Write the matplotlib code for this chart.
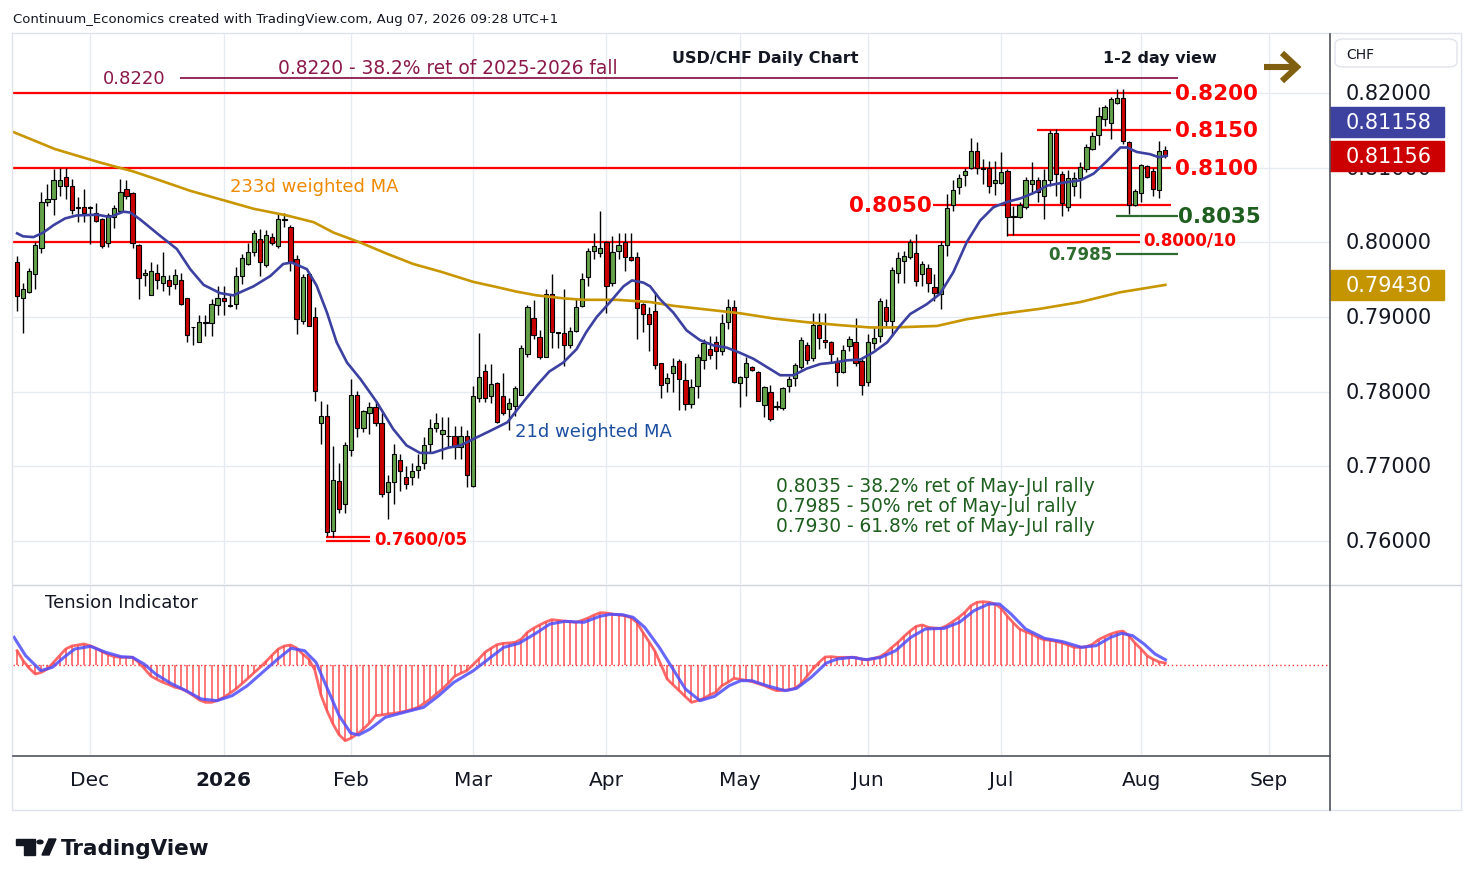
import numpy as np
import pandas as pd
import matplotlib
matplotlib.use("Agg")
import matplotlib.pyplot as plt
from matplotlib.patches import Rectangle, FancyBboxPatch, Polygon, Circle
from matplotlib.lines import Line2D

# -----------------------------
# Data (USD/CHF daily)
# -----------------------------
holidays = ["2025-12-25", "2026-01-01"]

opens = [
    0.7974, 0.7926, 0.7933, 0.7957, 0.7992, 0.8054, 0.8058, 0.8076, 0.8087, 0.8076,
    0.8047, 0.8047, 0.8046, 0.8039, 0.8031, 0.7999, 0.8034, 0.8042, 0.8071, 0.8066,
    0.7997, 0.7956, 0.7930, 0.7959, 0.7946, 0.7950, 0.7944, 0.7950, 0.7926, 0.7886,
    0.7867, 0.7892, 0.7892, 0.7916, 0.7926, 0.7916, 0.7918, 0.7955, 0.7971, 0.7987,
    0.8004, 0.7970, 0.8007, 0.7995, 0.8030, 0.8020, 0.7977, 0.7895, 0.7957, 0.7900,
    0.7758, 0.7767, 0.7613, 0.7681, 0.7650, 0.7722, 0.7795, 0.7751, 0.7771, 0.7780,
    0.7758, 0.7665, 0.7679, 0.7709, 0.7686, 0.7686, 0.7695, 0.7705, 0.7730, 0.7751,
    0.7743, 0.7741, 0.7741, 0.7726, 0.7740, 0.7673, 0.7792, 0.7827, 0.7794, 0.7812,
    0.7794, 0.7777, 0.7781, 0.7795, 0.7850, 0.7899, 0.7873, 0.7847, 0.7931, 0.7880,
    0.7878, 0.7862, 0.7881, 0.7915, 0.7954, 0.7988, 0.7986, 0.8001, 0.7946, 0.7988,
    0.8000, 0.7981, 0.7980, 0.7918, 0.7904, 0.7908, 0.7838, 0.7811, 0.7825, 0.7841,
    0.7816, 0.7783, 0.7807, 0.7842, 0.7857, 0.7866, 0.7855, 0.7893, 0.7913, 0.7812,
    0.7819, 0.7833, 0.7826, 0.7782, 0.7799, 0.7780, 0.7778, 0.7808, 0.7818, 0.7833,
    0.7862, 0.7845, 0.7889, 0.7869, 0.7866, 0.7841, 0.7826, 0.7861, 0.7867, 0.7841,
    0.7813, 0.7865, 0.7874, 0.7914, 0.7895, 0.7959, 0.7975, 0.7980, 0.7986, 0.7957,
    0.7965, 0.7940, 0.7931, 0.7996, 0.8050, 0.8074, 0.8090, 0.8100, 0.8122, 0.8099,
    0.8100, 0.8080, 0.8080, 0.8095, 0.8034, 0.8034, 0.8047, 0.8078, 0.8083, 0.8062,
    0.8083, 0.8146, 0.8091, 0.8047, 0.8075, 0.8086, 0.8098, 0.8125, 0.8144, 0.8165,
    0.8160, 0.8186, 0.8193, 0.8134, 0.8050, 0.8066, 0.8102, 0.8095, 0.8070, 0.8124,
]
highs = [
    0.7982, 0.7946, 0.7966, 0.8000, 0.8067, 0.8078, 0.8098, 0.8100, 0.8100, 0.8085,
    0.8061, 0.8071, 0.8048, 0.8053, 0.8032, 0.8039, 0.8050, 0.8085, 0.8083, 0.8068,
    0.7998, 0.7964, 0.7973, 0.7971, 0.7987, 0.7956, 0.7964, 0.7959, 0.7926, 0.7887,
    0.7903, 0.7902, 0.7924, 0.7941, 0.7941, 0.7929, 0.7967, 0.7984, 0.7999, 0.8016,
    0.8018, 0.8016, 0.8013, 0.8039, 0.8039, 0.8023, 0.7983, 0.7958, 0.7959, 0.7913,
    0.7788, 0.7783, 0.7727, 0.7705, 0.7732, 0.7817, 0.7801, 0.7776, 0.7786, 0.7787,
    0.7772, 0.7688, 0.7730, 0.7717, 0.7701, 0.7704, 0.7717, 0.7739, 0.7763, 0.7772,
    0.7766, 0.7766, 0.7754, 0.7754, 0.7748, 0.7808, 0.7879, 0.7837, 0.7837, 0.7813,
    0.7825, 0.7792, 0.7808, 0.7863, 0.7916, 0.7923, 0.7883, 0.7937, 0.7958, 0.7880,
    0.7938, 0.7886, 0.7924, 0.7959, 0.7992, 0.8013, 0.8042, 0.8002, 0.8009, 0.8013,
    0.8013, 0.8013, 0.7987, 0.7919, 0.7913, 0.7933, 0.7839, 0.7825, 0.7845, 0.7844,
    0.7838, 0.7817, 0.7850, 0.7871, 0.7875, 0.7875, 0.7904, 0.7924, 0.7923, 0.7821,
    0.7847, 0.7835, 0.7828, 0.7808, 0.7809, 0.7788, 0.7806, 0.7821, 0.7839, 0.7873,
    0.7867, 0.7906, 0.7906, 0.7906, 0.7868, 0.7846, 0.7862, 0.7874, 0.7898, 0.7844,
    0.7877, 0.7886, 0.7926, 0.7924, 0.7967, 0.7987, 0.7989, 0.8004, 0.8011, 0.7975,
    0.7971, 0.7958, 0.8002, 0.8065, 0.8083, 0.8092, 0.8100, 0.8140, 0.8135, 0.8112,
    0.8109, 0.8109, 0.8121, 0.8098, 0.8049, 0.8054, 0.8087, 0.8107, 0.8087, 0.8098,
    0.8151, 0.8152, 0.8096, 0.8097, 0.8094, 0.8107, 0.8132, 0.8148, 0.8181, 0.8184,
    0.8194, 0.8205, 0.8206, 0.8136, 0.8071, 0.8105, 0.8104, 0.8100, 0.8136, 0.8129,
]
lows = [
    0.7908, 0.7878, 0.7932, 0.7938, 0.7986, 0.8049, 0.8036, 0.8062, 0.8058, 0.8038,
    0.8027, 0.8027, 0.7998, 0.8027, 0.7992, 0.7994, 0.8019, 0.8039, 0.8058, 0.7992,
    0.7924, 0.7942, 0.7929, 0.7938, 0.7935, 0.7929, 0.7938, 0.7916, 0.7867, 0.7862,
    0.7866, 0.7875, 0.7875, 0.7902, 0.7902, 0.7913, 0.7911, 0.7944, 0.7969, 0.7982,
    0.7955, 0.7967, 0.7996, 0.7992, 0.8020, 0.7962, 0.7877, 0.7891, 0.7888, 0.7788,
    0.7730, 0.7607, 0.7605, 0.7638, 0.7637, 0.7714, 0.7739, 0.7746, 0.7743, 0.7754,
    0.7659, 0.7629, 0.7650, 0.7667, 0.7670, 0.7675, 0.7685, 0.7697, 0.7719, 0.7746,
    0.7710, 0.7726, 0.7710, 0.7710, 0.7672, 0.7672, 0.7786, 0.7786, 0.7785, 0.7758,
    0.7769, 0.7748, 0.7768, 0.7795, 0.7847, 0.7871, 0.7844, 0.7847, 0.7858, 0.7859,
    0.7835, 0.7859, 0.7880, 0.7914, 0.7941, 0.7978, 0.7980, 0.7905, 0.7941, 0.7978,
    0.7962, 0.7975, 0.7871, 0.7880, 0.7855, 0.7830, 0.7791, 0.7799, 0.7799, 0.7775,
    0.7776, 0.7778, 0.7792, 0.7831, 0.7844, 0.7831, 0.7849, 0.7884, 0.7812, 0.7779,
    0.7794, 0.7828, 0.7787, 0.7766, 0.7761, 0.7775, 0.7776, 0.7800, 0.7808, 0.7831,
    0.7837, 0.7841, 0.7857, 0.7859, 0.7839, 0.7808, 0.7825, 0.7855, 0.7834, 0.7795,
    0.7808, 0.7857, 0.7867, 0.7886, 0.7875, 0.7946, 0.7946, 0.7978, 0.7942, 0.7942,
    0.7933, 0.7922, 0.7911, 0.7982, 0.8042, 0.8065, 0.8076, 0.8098, 0.8092, 0.8078,
    0.8066, 0.8063, 0.8078, 0.8009, 0.8010, 0.8033, 0.8045, 0.8066, 0.8054, 0.8031,
    0.8076, 0.8062, 0.8035, 0.8042, 0.8062, 0.8060, 0.8094, 0.8123, 0.8131, 0.8156,
    0.8139, 0.8185, 0.8132, 0.8038, 0.8049, 0.8054, 0.8086, 0.8062, 0.8060, 0.8113,
]
closes = [
    0.7928, 0.7938, 0.7961, 0.7996, 0.8054, 0.8058, 0.8084, 0.8083, 0.8076, 0.8043,
    0.8046, 0.8039, 0.8047, 0.8029, 0.7995, 0.8036, 0.8046, 0.8067, 0.8062, 0.7999,
    0.7952, 0.7959, 0.7961, 0.7950, 0.7955, 0.7941, 0.7956, 0.7918, 0.7876, 0.7886,
    0.7893, 0.7893, 0.7917, 0.7926, 0.7922, 0.7915, 0.7955, 0.7979, 0.7987, 0.8012,
    0.7973, 0.8010, 0.7999, 0.8031, 0.8031, 0.7973, 0.7897, 0.7953, 0.7888, 0.7801,
    0.7768, 0.7612, 0.7682, 0.7643, 0.7729, 0.7795, 0.7751, 0.7774, 0.7780, 0.7758,
    0.7663, 0.7679, 0.7716, 0.7694, 0.7676, 0.7694, 0.7700, 0.7729, 0.7751, 0.7758,
    0.7748, 0.7740, 0.7726, 0.7740, 0.7689, 0.7794, 0.7819, 0.7791, 0.7810, 0.7759,
    0.7772, 0.7785, 0.7805, 0.7859, 0.7913, 0.7876, 0.7847, 0.7931, 0.7880, 0.7879,
    0.7863, 0.7881, 0.7914, 0.7951, 0.7988, 0.7995, 0.7993, 0.7942, 0.7987, 0.7997,
    0.7980, 0.7976, 0.7912, 0.7904, 0.7890, 0.7836, 0.7809, 0.7818, 0.7834, 0.7817,
    0.7783, 0.7806, 0.7846, 0.7865, 0.7849, 0.7855, 0.7892, 0.7914, 0.7813, 0.7819,
    0.7839, 0.7829, 0.7787, 0.7806, 0.7763, 0.7780, 0.7805, 0.7817, 0.7836, 0.7869,
    0.7843, 0.7889, 0.7872, 0.7866, 0.7850, 0.7826, 0.7856, 0.7871, 0.7839, 0.7809,
    0.7866, 0.7872, 0.7921, 0.7895, 0.7963, 0.7979, 0.7982, 0.8000, 0.7948, 0.7971,
    0.7946, 0.7932, 0.7996, 0.8046, 0.8070, 0.8086, 0.8095, 0.8122, 0.8100, 0.8098,
    0.8075, 0.8083, 0.8094, 0.8034, 0.8035, 0.8050, 0.8083, 0.8083, 0.8068, 0.8083,
    0.8147, 0.8092, 0.8052, 0.8086, 0.8086, 0.8101, 0.8127, 0.8143, 0.8169, 0.8181,
    0.8192, 0.8193, 0.8136, 0.8050, 0.8069, 0.8103, 0.8088, 0.8071, 0.8122, 0.81156,
]

# 21d weighted MA (bar position, value)
ma21_pos = [0, 1, 2.7, 4.3, 6, 7.9, 9.8, 13.1, 15.3, 17.5,
            18.6, 20.2, 23.5, 26.3, 28.5, 30.7, 33.4, 35.6, 38.9, 41.7,
            43.8, 45.2, 47.7, 49.3, 51, 52.6, 54.3, 56.5, 59.2, 61.9,
            64.1, 66.3, 68.4, 71, 73, 75.2, 78, 80.7, 83.3, 85.5,
            87.6, 89.9, 92.1, 93.7, 95.4, 97.6, 99.8, 101.2, 103.1, 104.2,
            105.8, 108, 110.2, 112.4, 114.6, 116.8, 119, 121.2, 123.4, 125.6,
            127.8, 130, 132.2, 134.4, 136.6, 138.8, 141, 143.2, 145.3, 147,
            149.7, 151.9, 154.1, 156.3, 158.5, 160.7, 162.9, 165.2, 167.3, 169.6,
            172.2, 175, 177.2, 179.4, 181.6, 182.7, 184.3, 186.5, 187.9, 189.2]
ma21_val = [0.8012, 0.8008, 0.8007, 0.8013, 0.8023, 0.8032, 0.8036, 0.8037, 0.8034, 0.8041,
            0.8040, 0.8031, 0.8009, 0.7991, 0.7964, 0.7943, 0.7932, 0.7929, 0.7941, 0.7955,
            0.7971, 0.7973, 0.7964, 0.7942, 0.7906, 0.7866, 0.7839, 0.7817, 0.7786, 0.7750,
            0.7728, 0.7718, 0.7718, 0.7725, 0.7728, 0.7737, 0.7748, 0.7759, 0.7786, 0.7808,
            0.7827, 0.7839, 0.7857, 0.7880, 0.7900, 0.7920, 0.7941, 0.7949, 0.7946, 0.7941,
            0.7924, 0.7906, 0.7882, 0.7869, 0.7862, 0.7859, 0.7852, 0.7844, 0.7833, 0.7822,
            0.7822, 0.7831, 0.7837, 0.7839, 0.7842, 0.7843, 0.7853, 0.7866, 0.7888, 0.7904,
            0.7917, 0.7931, 0.7960, 0.8000, 0.8029, 0.8047, 0.8054, 0.8059, 0.8066, 0.8076,
            0.8080, 0.8083, 0.8092, 0.8109, 0.8127, 0.8127, 0.8121, 0.8118, 0.8114, 0.81158]

# 233d weighted MA
ma233_pos = [-0.7, 6.2, 13.6, 19.1, 23.5, 28.5, 35.0, 38.9, 44.4, 48.8,
             52.1, 56.4, 60.8, 65.2, 69.6, 75.1, 79.0, 82.2, 85.5, 89.9,
             93.2, 98.7, 104.2, 108.0, 113.5, 119.0, 124.5, 130.0, 135.5, 140.4,
             144.2, 151.4, 156.3, 161.8, 168.4, 175.0, 181.5, 189.0]
ma233_val = [0.8148, 0.8125, 0.8107, 0.8095, 0.8083, 0.8069, 0.8054, 0.8045, 0.8036, 0.8027,
             0.8013, 0.8000, 0.7985, 0.7971, 0.7961, 0.7947, 0.7940, 0.7934, 0.7929, 0.7925,
             0.7923, 0.7923, 0.7920, 0.7915, 0.7910, 0.7905, 0.7898, 0.7893, 0.7889, 0.7886,
             0.7886, 0.7888, 0.7897, 0.7904, 0.7911, 0.7920, 0.7933, 0.7943]

# Tension indicator (one value per bar) and its signal line
tension = [
    0.44, 0.14, -0.09, -0.26, -0.21, -0.11, 0.09, 0.29, 0.49, 0.58,
    0.61, 0.64, 0.59, 0.51, 0.41, 0.32, 0.26, 0.24, 0.24, 0.24,
    0.09, -0.11, -0.32, -0.42, -0.51, -0.58, -0.66, -0.70, -0.79, -0.91,
    -1.04, -1.11, -1.11, -1.05, -0.96, -0.84, -0.71, -0.55, -0.39, -0.22,
    -0.06, 0.12, 0.31, 0.49, 0.58, 0.61, 0.52, 0.34, 0.19, -0.14,
    -0.88, -1.36, -1.76, -2.08, -2.26, -2.18, -2.06, -1.91, -1.73, -1.51,
    -1.49, -1.46, -1.44, -1.41, -1.37, -1.32, -1.26, -1.14, -1.01, -0.86,
    -0.71, -0.53, -0.33, -0.24, -0.16, 0.01, 0.19, 0.39, 0.51, 0.62,
    0.66, 0.67, 0.69, 0.79, 0.99, 1.11, 1.21, 1.30, 1.37, 1.35,
    1.33, 1.31, 1.29, 1.35, 1.42, 1.51, 1.58, 1.57, 1.54, 1.51,
    1.49, 1.43, 1.29, 0.99, 0.71, 0.42, 0.01, -0.41, -0.59, -0.76,
    -0.94, -1.11, -1.06, -0.99, -0.89, -0.81, -0.61, -0.51, -0.39, -0.42,
    -0.45, -0.49, -0.55, -0.61, -0.69, -0.76, -0.75, -0.74, -0.69, -0.56,
    -0.33, -0.11, 0.09, 0.25, 0.26, 0.24, 0.24, 0.24, 0.24, 0.18,
    0.17, 0.21, 0.26, 0.37, 0.54, 0.69, 0.87, 1.03, 1.17, 1.21,
    1.14, 1.12, 1.11, 1.19, 1.31, 1.44, 1.59, 1.79, 1.89, 1.91,
    1.89, 1.84, 1.71, 1.47, 1.27, 1.09, 1.01, 0.94, 0.84, 0.77,
    0.75, 0.72, 0.67, 0.61, 0.54, 0.54, 0.56, 0.63, 0.77, 0.86,
    0.94, 1.00, 1.03, 0.89, 0.67, 0.49, 0.29, 0.18, 0.10, 0.07,
]
sig_pos = [-0.5, 1.4, 3.9, 5.8, 7.7, 9.5, 12.1, 14.6, 17.1, 19,
           20.9, 22.8, 25.3, 27.8, 30.3, 32.9, 35.4, 37.9, 40.4, 42.9,
           45.1, 47.3, 49.2, 51.1, 53, 54.9, 56.2, 58.1, 60.6, 63.7,
           66.9, 69.4, 71.9, 75.1, 77.6, 80.1, 82.6, 85.2, 87.7, 90.2,
           93.3, 95.9, 97.6, 99.6, 101.4, 103.3, 105.7, 107.6, 110, 112.4,
           114.8, 117.2, 119.1, 120.9, 123.4, 126.4, 128.3, 130.7, 133.2, 135,
           137.4, 139.8, 142.2, 144.6, 147.1, 149.5, 152.6, 155.1, 157.5, 159.9,
           161.7, 163.6, 166, 169.1, 172.1, 175.2, 177.6, 180, 181.8, 183.6,
           185.5, 187.3, 189]
sig_val = [0.84, 0.29, -0.16, -0.06, 0.24, 0.49, 0.57, 0.39, 0.26, 0.24,
           0.04, -0.26, -0.54, -0.76, -1.01, -1.06, -0.91, -0.61, -0.21, 0.19,
           0.51, 0.44, 0.09, -0.71, -1.51, -2.03, -2.09, -1.91, -1.56, -1.41,
           -1.26, -0.91, -0.51, -0.16, 0.19, 0.54, 0.66, 0.94, 1.24, 1.32,
           1.29, 1.47, 1.53, 1.52, 1.44, 1.14, 0.54, -0.01, -0.71, -1.06,
           -0.93, -0.61, -0.46, -0.46, -0.61, -0.76, -0.69, -0.36, 0.07, 0.19,
           0.24, 0.17, 0.24, 0.44, 0.84, 1.09, 1.11, 1.29, 1.64, 1.84,
           1.84, 1.54, 1.09, 0.81, 0.71, 0.54, 0.59, 0.84, 0.96, 0.89,
           0.64, 0.34, 0.17]

price_ticks = [0.82, 0.81, 0.80, 0.79, 0.78, 0.77, 0.76]
month_labels = [("2025-12", "Dec"), ("2026-01", "2026"), ("2026-02", "Feb"),
                ("2026-03", "Mar"), ("2026-04", "Apr"), ("2026-05", "May"),
                ("2026-06", "Jun"), ("2026-07", "Jul"), ("2026-08", "Aug"),
                ("2026-09", "Sep")]

# -----------------------------
# Layout helpers
# -----------------------------
W, H = 1474, 887
GREEN = "#64a34a"
RED = "#cc0000"
GRID = "#e6ebf1"
INK = "#131722"

def pbox(x0, y0, x1, y1):
    return [x0 / W, 1 - y1 / H, (x1 - x0) / W, (y1 - y0) / H]

def fpt(px, py):
    return (px / W, 1 - py / H)

def fig_line(fig, xs, ys, **kw):
    fig.add_artist(Line2D([x / W for x in xs], [1 - y / H for y in ys],
                          transform=fig.transFigure, **kw))

cal = pd.bdate_range("2025-11-13", "2026-09-30")
cal = cal[~cal.isin(pd.to_datetime(holidays))]
periods = cal.to_period("M")
month_pos = [int(np.argmax(periods == pd.Period(m, "M"))) for m, _ in month_labels]

n = len(closes)
x = np.arange(n)
o, h, l, c = map(np.array, (opens, highs, lows, closes))

XLIM = (-0.675, 216.1)
YLIM = (0.75424, 0.8279)

fig = plt.figure(figsize=(W / 100, H / 100), dpi=100)
fig.patch.set_facecolor("white")

# -----------------------------
# Price pane
# -----------------------------
ax = fig.add_axes(pbox(13, 35, 1330, 585))
ax.set_xlim(*XLIM)
ax.set_ylim(*YLIM)
ax.set_axis_off()
for p in price_ticks:
    ax.axhline(p, color=GRID, lw=1, zorder=0)
for m in month_pos:
    ax.axvline(m, color=GRID, lw=1, zorder=0)

# support / resistance lines
ax.hlines([0.8200, 0.8100], -0.7, 190, color="#ff0000", lw=1.6, zorder=2)
ax.hlines(0.8000, -0.7, 184.8, color="#ff0000", lw=1.6, zorder=2)
ax.hlines(0.8150, 167.9, 190, color="#ff0000", lw=1.6, zorder=2)
ax.hlines(0.8050, 150.8, 190, color="#ff0000", lw=1.6, zorder=2)
ax.hlines(0.8010, 162.9, 184.8, color="#ff0000", lw=1.6, zorder=2)
ax.hlines([0.7605, 0.7600], 50.8, 58.1, color="#ff0000", lw=1.6, zorder=2)
ax.hlines([0.8035, 0.7985], 180.9, 191.0, color="#2e6b2e", lw=1.6, zorder=2)
ax.hlines(0.8220, 26.8, 191.1, color="#8b1a4b", lw=1.3, zorder=2)

# candles
up = c >= o
cols = np.where(up, GREEN, RED)
ax.vlines(x, l, h, color="black", lw=1, zorder=3)
ax.bar(x, np.maximum(np.abs(c - o), 0.00004), bottom=np.minimum(o, c), width=0.7,
       color=cols, edgecolor="black", linewidth=0.8, zorder=4)

# moving averages
ax.plot(ma233_pos, ma233_val, color="#c89600", lw=1.9, zorder=5)
ax.plot(ma21_pos, ma21_val, color="#3c40a0", lw=1.9, zorder=5)

# annotations
kw = dict(clip_on=False, zorder=6)
big = dict(fontsize=15.5, fontweight="bold", va="center")
ax.text(190.6, 0.8200, "0.8200", color="#ff0000", **big, **kw)
ax.text(190.6, 0.8150, "0.8150", color="#ff0000", **big, **kw)
ax.text(190.6, 0.8100, "0.8100", color="#ff0000", **big, **kw)
ax.text(150.6, 0.8050, "0.8050", color="#ff0000", ha="right", **big, **kw)
ax.text(191.1, 0.8035, "0.8035", color="#1e5e1e", **big, **kw)
ax.text(185.3, 0.8004, "0.8000/10", color="#ff0000", fontsize=12, fontweight="bold", va="center", **kw)
ax.text(180.2, 0.7985, "0.7985", color="#2e6b2e", fontsize=12, fontweight="bold", va="center", ha="right", **kw)
ax.text(58.8, 0.7603, "0.7600/05", color="#ff0000", fontsize=12, fontweight="bold", va="center", **kw)
ax.text(14.1, 0.8220, "0.8220", color="#8b1a4b", fontsize=13, va="center", **kw)
ax.text(42.9, 0.82335, "0.8220 - 38.2% ret of 2025-2026 fall", color="#8b1a4b", fontsize=13.4, va="center", **kw)
ax.text(35.1, 0.80755, "233d weighted MA", color="#ee8a00", fontsize=13, va="center", **kw)
ax.text(81.9, 0.77473, "21d weighted MA", color="#1c4fa0", fontsize=13, va="center", **kw)
notes = ["0.8035 - 38.2% ret of May-Jul rally",
         "0.7985 - 50% ret of May-Jul rally",
         "0.7930 - 61.8% ret of May-Jul rally"]
for k, t in enumerate(notes):
    ax.text(124.9, 0.76737 - k * 0.00268, t, color="#1e5e1e", fontsize=13.4, va="center", **kw)

fig.text(*fpt(765, 59), "USD/CHF Daily Chart", ha="center", va="center",
         fontsize=11.5, fontweight="bold", color=INK)
fig.text(*fpt(1160, 59), "1-2 day view", ha="center", va="center",
         fontsize=11.5, fontweight="bold", color=INK)
# arrow: shaft + chevron head
ARROW = "#806010"
fig_line(fig, [1264, 1296], [68, 68], color=ARROW, lw=4.4, solid_capstyle="butt")
fig_line(fig, [1282, 1297, 1282], [54, 68, 82], color=ARROW, lw=4.4,
         solid_joinstyle="miter", solid_capstyle="butt")

# -----------------------------
# Right price scale
# -----------------------------
rx = fig.add_axes(pbox(1330, 35, 1461, 585))
rx.set_xlim(0, 131)
rx.set_ylim(*YLIM)
rx.set_axis_off()
for p in price_ticks:
    rx.text(16, p, f"{p:.5f}", fontsize=15, va="center", color=INK, zorder=1)
hh = 15 / 7467
for yc, txt, col in [(0.81618, "0.81158", "#3d42a0"),
                     (0.81156, "0.81156", "#cc0000"),
                     (0.79430, "0.79430", "#c49500")]:
    rx.add_patch(Rectangle((0, yc - hh), 114, 2 * hh, color=col, zorder=3))
    rx.text(16, yc, txt, fontsize=15, va="center", color="white", zorder=4)
fig.add_artist(FancyBboxPatch(fpt(1335, 68), 122 / W, 28 / H,
                              boxstyle="round,pad=0,rounding_size=0.006",
                              transform=fig.transFigure, facecolor="white",
                              edgecolor="#e0e3eb", lw=1))
fig.text(*fpt(1346, 55), "CHF", fontsize=10, va="center", color=INK)

# -----------------------------
# Tension indicator pane
# -----------------------------
tx = fig.add_axes(pbox(13, 586, 1330, 757))
tx.set_xlim(*XLIM)
tx.set_ylim(-2.72, 2.41)
tx.set_axis_off()
for m in month_pos:
    tx.axvline(m, color=GRID, lw=1, zorder=0)
tv = np.array(tension)
tx.vlines(x, 0, tv, color="#ff4040", lw=1.1, alpha=0.9, zorder=2)
tx.plot(x, tv, color="#ff4d4d", lw=2, alpha=0.85, zorder=3)
tx.plot(sig_pos, sig_val, color="#4d4dff", lw=2.2, alpha=0.85, zorder=4)
tx.axhline(0, color="#ff3333", lw=1, ls=(0, (1, 2)), zorder=1)
fig.text(*fpt(45, 603), "Tension Indicator", fontsize=13, va="center", color=INK)

# -----------------------------
# Time axis
# -----------------------------
bx = fig.add_axes(pbox(13, 757, 1330, 810))
bx.set_xlim(*XLIM)
bx.set_ylim(0, 1)
bx.set_axis_off()
for m, (_, lab) in zip(month_pos, month_labels):
    bx.text(m, 0.55, lab, ha="center", va="center", fontsize=14.5, color=INK,
            fontweight="bold" if lab == "2026" else "normal")

# frame lines
fig_line(fig, [12, 1461, 1461, 12, 12], [34, 34, 811, 811, 34], color="#e0e3eb", lw=1)
fig_line(fig, [13, 1461], [586, 586], color="#d1d4dc", lw=1)
fig_line(fig, [13, 1330], [757, 757], color="#50535e", lw=1.2)
fig_line(fig, [1330, 1330], [35, 811], color="#50535e", lw=1.2)

# header / footer
fig.text(*fpt(13, 19),
         "Continuum_Economics created with TradingView.com, Aug 07, 2026 09:28 UTC+1",
         fontsize=9.5, va="center", color=INK)
fig.text(*fpt(61, 849), "TradingView", fontsize=15.5, fontweight="bold",
         va="center", color=INK)
logo = [Polygon([fpt(16, 840), fpt(35, 840), fpt(35, 856), fpt(24, 856),
                 fpt(24, 846), fpt(16, 846)], closed=True,
                transform=fig.transFigure, color=INK),
        Circle(fpt(40, 843), 3 / W, transform=fig.transFigure, color=INK),
        Polygon([fpt(42, 856), fpt(49, 840), fpt(56, 840), fpt(49, 856)], closed=True,
                transform=fig.transFigure, color=INK)]
for a in logo:
    fig.add_artist(a)

fig.savefig("out.png", dpi=100, facecolor="white")
